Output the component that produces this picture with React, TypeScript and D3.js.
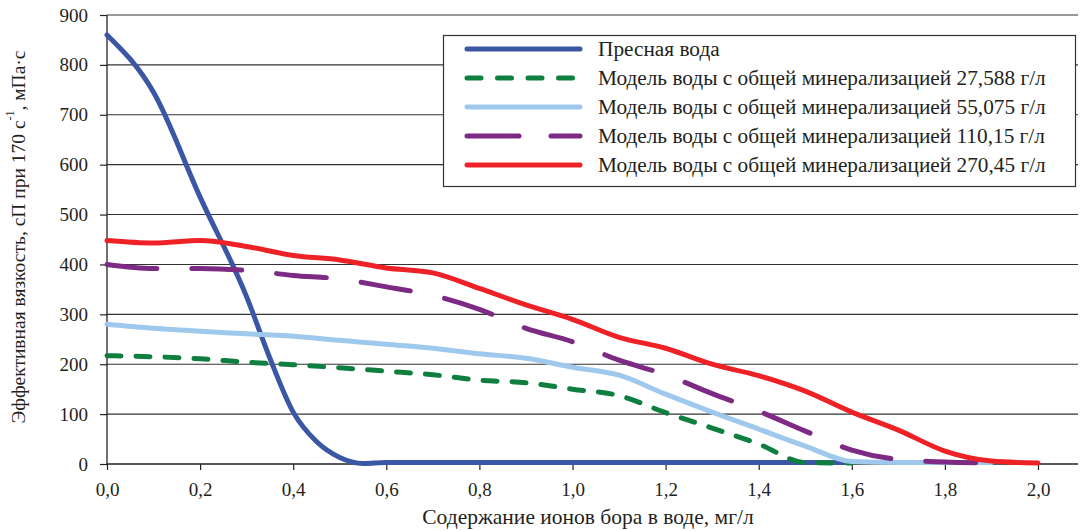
import React, { useEffect, useRef } from "react";
import * as d3 from "d3";

// содержание ионов бора, мг/л
const xFresh = [0, 0.1, 0.2, 0.3, 0.35, 0.4, 0.45, 0.5, 0.55, 0.6, 0.7, 0.8, 0.9, 1.0, 1.1, 1.2, 1.3, 1.4, 1.5, 1.6];
const fresh = [860, 745, 535, 335, 212, 104, 45, 13, 1, 3, 3, 3, 3, 3, 3, 3, 3, 3, 3, 3];

const xStep = [0, 0.1, 0.2, 0.3, 0.4, 0.5, 0.6, 0.7, 0.8, 0.9, 1.0, 1.1, 1.2, 1.3, 1.4, 1.5, 1.6, 1.7, 1.8, 1.9, 2.0];
const min27 = [217, 215, 211, 204, 199, 193, 186, 179, 168, 163, 150, 137, 103, 72, 40, 3, 2];
const min55 = [280, 272, 266, 261, 256, 248, 240, 232, 221, 212, 194, 178, 140, 104, 70, 36, 5, 3, 3, 3];
const min110 = [400, 392, 392, 388, 378, 371, 355, 338, 310, 272, 245, 208, 179, 141, 106, 66, 28, 9, 4, 2];
const min270 = [448, 443, 448, 436, 418, 409, 393, 383, 352, 319, 290, 254, 232, 200, 177, 146, 104, 68, 26, 6, 2];

const seriesNames = [
  "Пресная вода",
  "Модель воды с общей минерализацией 27,588 г/л",
  "Модель воды с общей минерализацией 55,075 г/л",
  "Модель воды с общей минерализацией 110,15 г/л",
  "Модель воды с общей минерализацией 270,45 г/л",
];
const colors = ["#3B56A5", "#0F7F3F", "#9FC9EC", "#7D2A84", "#EE2226"];
const dashes = ["none", "14 15", "none", "50 35", "none"];
const legendDashes = ["none", "14 16.5", "none", "52 32", "none"];

const yTicks = [0, 100, 200, 300, 400, 500, 600, 700, 800, 900];
const xTicks = [0, 0.2, 0.4, 0.6, 0.8, 1.0, 1.2, 1.4, 1.6, 1.8, 2.0];

const W = 1082, H = 531;
const left = 107, top = 15, bottom = 464, plotRight = 1078, xEnd = 1038;
const font = "'Liberation Serif', 'Times New Roman', serif";

export default function App() {
  const ref = useRef<SVGSVGElement>(null);

  useEffect(() => {
    const svg = d3.select(ref.current);
    svg.selectAll("*").remove();

    const x = d3.scaleLinear().domain([0, 2]).range([left, xEnd]);
    const y = d3.scaleLinear().domain([0, 900]).range([bottom, top]);

    // grid
    svg.append("g").selectAll("line").data(yTicks.filter(d => d > 0)).join("line")
      .attr("x1", left).attr("x2", plotRight)
      .attr("y1", d => y(d)).attr("y2", d => y(d))
      .attr("stroke", "#333").attr("stroke-width", 1.1);

    const yAxis = svg.append("g").attr("transform", `translate(${left},0)`)
      .call(d3.axisLeft(y).tickValues(yTicks).tickSize(7).tickFormat(d => `${d}`));
    const xAxis = svg.append("g").attr("transform", `translate(0,${bottom})`)
      .call(d3.axisBottom(x).tickValues(xTicks).tickSize(6).tickFormat(d => d3.format(".1f")(d as number).replace(".", ",")));
    [yAxis, xAxis].forEach(a => {
      a.select(".domain").attr("stroke", "#222").attr("stroke-width", 1.3);
      a.selectAll(".tick line").attr("stroke", "#222").attr("stroke-width", 1.2);
      a.selectAll("text").attr("font-family", font).attr("font-size", 19).attr("fill", "#231F20");
    });
    yAxis.select(".domain").attr("d", `M0,${bottom}V${top}`);
    xAxis.select(".domain").attr("d", `M${left},0H${plotRight}`);
    yAxis.selectAll("text").attr("x", -19);
    xAxis.selectAll("text").attr("y", 19);

    const line = d3.line<[number, number]>().x(d => x(d[0])).y(d => y(d[1])).curve(d3.curveMonotoneX);
    const series: [number, number][][] = [
      fresh.map((v, i) => [xFresh[i], v]),
      min27.map((v, i) => [xStep[i], v]),
      min55.map((v, i) => [xStep[i], v]),
      min110.map((v, i) => [xStep[i], v]),
      min270.map((v, i) => [xStep[i], v]),
    ];
    svg.append("g").selectAll("path").data(series).join("path")
      .attr("d", d => line(d))
      .attr("fill", "none")
      .attr("stroke", (_, i) => colors[i])
      .attr("stroke-width", 5)
      .attr("stroke-linecap", "round")
      .attr("stroke-linejoin", "round")
      .attr("stroke-dasharray", (_, i) => dashes[i]);

    // legend
    const lg = svg.append("g");
    lg.append("rect").attr("x", 443.5).attr("y", 35.5).attr("width", 632).attr("height", 151)
      .attr("fill", "white").attr("stroke", "#333").attr("stroke-width", 1.2);
    const items = lg.selectAll("g.item").data(seriesNames).join("g").attr("class", "item")
      .attr("transform", (_, i) => `translate(0,${49 + i * 29})`);
    items.append("line").attr("x1", 467).attr("x2", 580).attr("y1", 0).attr("y2", 0)
      .attr("stroke", (_, i) => colors[i]).attr("stroke-width", 5).attr("stroke-linecap", "round")
      .attr("stroke-dasharray", (_, i) => legendDashes[i]);
    items.append("text").attr("x", 598).attr("y", 0).attr("dy", "0.35em")
      .attr("font-family", font).attr("font-size", 21.3).attr("fill", "#231F20")
      .text(d => d);

    // axis titles
    svg.append("text").attr("x", 588).attr("y", 516).attr("dy", "0.35em").attr("text-anchor", "middle")
      .attr("font-family", font).attr("font-size", 21.5).attr("fill", "#231F20")
      .text("Содержание ионов бора в воде, мг/л");
    const yt = svg.append("text").attr("transform", "translate(18,237) rotate(-90)").attr("dy", "0.35em")
      .attr("text-anchor", "middle").attr("font-family", font).attr("font-size", 19.5).attr("fill", "#231F20");
    yt.append("tspan").text("Эффективная вязкость, сП при 170 с");
    yt.append("tspan").attr("font-size", 12).attr("dy", "-0.9em").text("-1");
    yt.append("tspan").attr("dy", "0.55em").text(", мПа·с");
  }, []);

  return (
    <svg ref={ref} width={W} height={H} style={{ position: "absolute", left: 0, top: 0, background: "white" }} />
  );
}
